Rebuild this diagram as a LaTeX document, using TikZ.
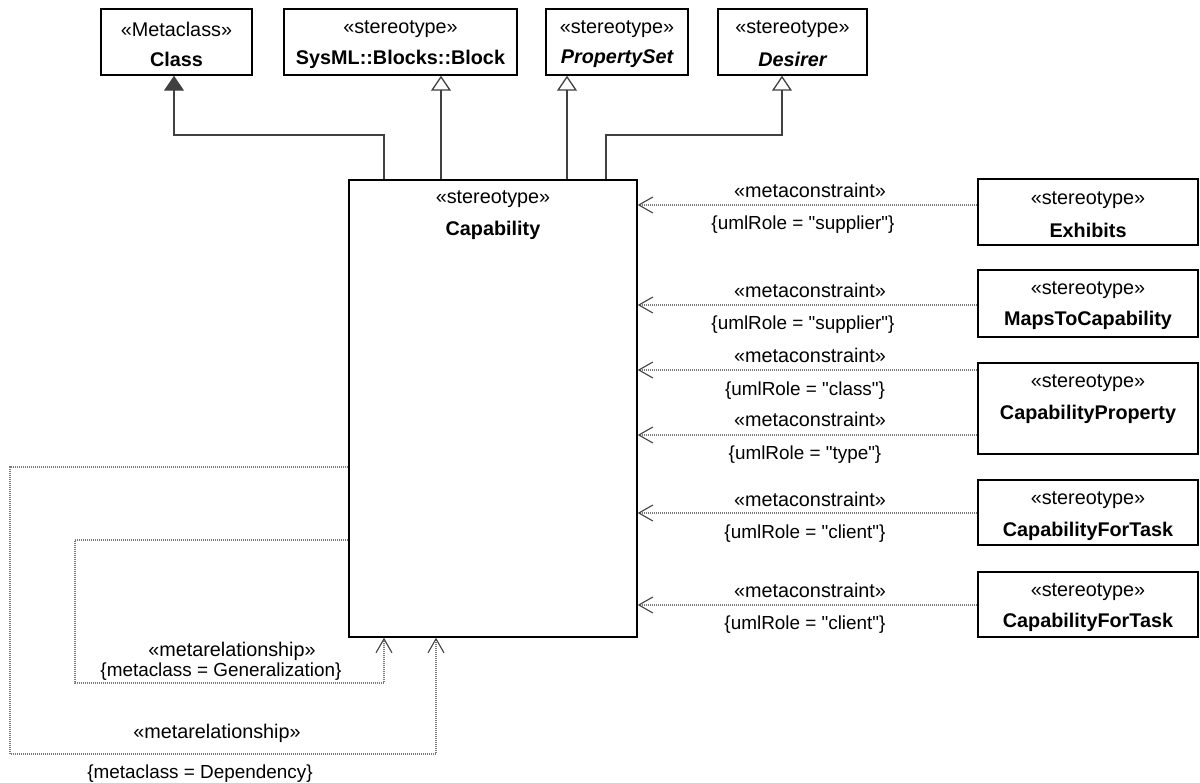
\documentclass[tikz,border=0pt]{standalone}
\usepackage{fontspec}
\setmainfont{Liberation Sans}[Ligatures=TeXOff]
\usetikzlibrary{arrows.meta}
\definecolor{ln}{HTML}{404040}
\definecolor{dl}{HTML}{7A7A7A}
\begin{document}
\begin{tikzpicture}[x=1pt,y=-1pt,
  box/.style={draw=black,line width=1.5pt,fill=white,inner sep=0pt},
  txt/.style={font=\fontsize{19.8}{22}\selectfont,inner sep=0pt,yshift=-2pt},
  brc/.style={font=\fontsize{18.9}{22}\selectfont,inner sep=0pt,yshift=-2pt},
  bld/.style={font=\fontsize{19.8}{22}\selectfont\bfseries,inner sep=0pt,yshift=-2pt},
  bit/.style={font=\fontsize{19.8}{22}\selectfont\bfseries\itshape,inner sep=0pt,yshift=-2pt},
  gen/.style={draw=ln,line width=1.3pt,-{Triangle[open,length=15pt,width=20pt,line width=1.3pt]}},
  fgen/.style={draw=ln,line width=1.3pt,-{Triangle[length=15pt,width=20pt,fill=ln]}},
  mc/.style={draw=dl,line width=1.2pt,dash pattern=on 1.2pt off 0.8pt,-{Straight Barb[length=14pt,width=16pt,line width=1.1pt,color=ln]}}
]
\useasboundingbox (0,0) rectangle (1200,783);
% top boxes
\node[box,minimum width=151pt,minimum height=66pt] (cls) at (176.5,42) {};
\node[box,minimum width=233pt,minimum height=66pt] (blk) at (400.5,42) {};
\node[box,minimum width=142pt,minimum height=66pt] (pset) at (617,42) {};
\node[box,minimum width=149pt,minimum height=66pt] (des) at (792.5,42) {};
\node[txt] (clsS) at (176.5,27) {«Metaclass»};
\node[bld] (clsN) at (176.5,57) {Class};
\node[txt] (blkS) at (400.5,27) {«stereotype»};
\node[bld] (blkN) at (400.5,57) {SysML::Blocks::Block};
\node[txt] (psetS) at (617,27) {«stereotype»};
\node[bit] (psetN) at (617,57) {PropertySet};
\node[txt] (desS) at (792.5,27) {«stereotype»};
\node[bit] (desN) at (792.5,57) {Desirer};
% capability
\node[box,minimum width=288pt,minimum height=457pt] (cap) at (493,408.5) {};
\node[txt] (capS) at (493,197) {«stereotype»};
\node[bld] (capN) at (493,228) {Capability};
% right boxes
\node[box,minimum width=220pt,minimum height=66pt] (exh) at (1088,212) {};
\node[box,minimum width=220pt,minimum height=67pt] (maps) at (1088,303.5) {};
\node[box,minimum width=220pt,minimum height=91pt] (cprop) at (1088,408.5) {};
\node[box,minimum width=220pt,minimum height=65pt] (cft) at (1088,512.5) {};
\node[box,minimum width=220pt,minimum height=65pt] (cftb) at (1088,604.5) {};
\node[txt] (exhS) at (1088,198) {«stereotype»};
\node[bld] (exhN) at (1088,228) {Exhibits};
\node[txt] (mapsS) at (1088,288) {«stereotype»};
\node[bld] (mapsN) at (1088,318) {MapsToCapability};
\node[txt] (cpropS) at (1088,381) {«stereotype»};
\node[bld] (cpropN) at (1088,412) {CapabilityProperty};
\node[txt] (cftS) at (1088,498) {«stereotype»};
\node[bld] (cftN) at (1088,529) {CapabilityForTask};
\node[txt] (cftbS) at (1088,590) {«stereotype»};
\node[bld] (cftbN) at (1088,620) {CapabilityForTask};
% generalizations
\draw[fgen] (cap.north -| 384,0) -- (384,135) -- (174,135) -- (cls.south -| 174,0);
\draw[gen] (cap.north -| 441,0) -- (blk.south -| 441,0);
\draw[gen] (cap.north -| 567,0) -- (pset.south -| 567,0);
\draw[gen] (cap.north -| 606,0) -- (606,135) -- (782,135) -- (des.south -| 782,0);
% metaconstraints
\draw[mc] (exh.west |- 0,205) -- (cap.east |- 0,205);
\draw[mc] (maps.west |- 0,305) -- (cap.east |- 0,305);
\draw[mc] (cprop.west |- 0,370) -- (cap.east |- 0,370);
\draw[mc] (cprop.west |- 0,435) -- (cap.east |- 0,435);
\draw[mc] (cft.west |- 0,513) -- (cap.east |- 0,513);
\draw[mc] (cftb.west |- 0,605) -- (cap.east |- 0,605);
\node[txt] (l1a) at (810,188) {«metaconstraint»};
\node[brc] (l1b) at (803,223) {\{umlRole = "supplier"\}};
\node[txt] (l2a) at (810,288) {«metaconstraint»};
\node[brc] (l2b) at (803,323) {\{umlRole = "supplier"\}};
\node[txt] (l3a) at (810,353) {«metaconstraint»};
\node[brc] (l3b) at (805,389) {\{umlRole = "class"\}};
\node[txt] (l4a) at (810,417) {«metaconstraint»};
\node[brc] (l4b) at (805,453) {\{umlRole = "type"\}};
\node[txt] (l5a) at (810,497) {«metaconstraint»};
\node[brc] (l5b) at (805,532) {\{umlRole = "client"\}};
\node[txt] (l6a) at (810,588) {«metaconstraint»};
\node[brc] (l6b) at (805,623) {\{umlRole = "client"\}};
% metarelationships
\draw[mc] (cap.west |- 0,540) -- (75,540) -- (75,683) -- (384,683) -- (cap.south -| 384,0);
\draw[mc] (cap.west |- 0,467) -- (10,467) -- (10,754) -- (436,754) -- (cap.south -| 436,0);
\node[txt] (g1) at (232,649) {«metarelationship»};
\node[brc] (g2) at (221,670) {\{metaclass = Generalization\}};
\node[txt] (d1) at (217,731) {«metarelationship»};
\node[brc] (d2) at (200,772) {\{metaclass = Dependency\}};
\end{tikzpicture}
\end{document}
